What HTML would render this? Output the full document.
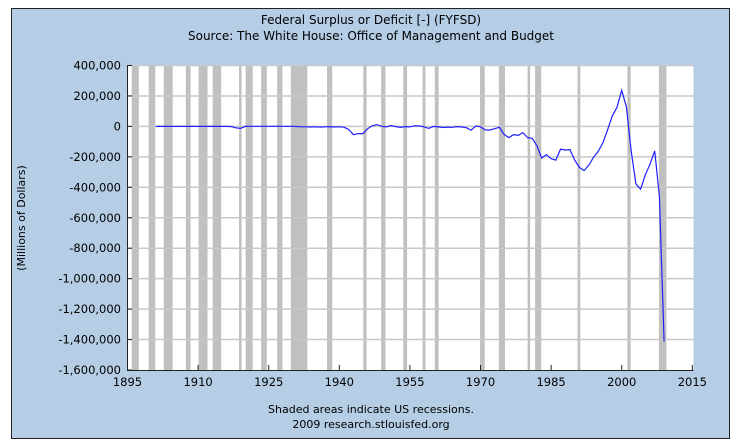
<!DOCTYPE html>
<html><head><meta charset="utf-8"><style>
body{margin:0;background:#fff;}
svg{display:block;font-family:"DejaVu Sans","Liberation Sans",sans-serif;}
</style></head><body>
<svg id="chart" width="732" height="441">
<rect x="11.5" y="8.5" width="718" height="430" fill="#b5cee6" stroke="#222"/>
<text x="371" y="24" font-size="12" text-anchor="middle">Federal Surplus or Deficit [-] (FYFSD)</text>
<text x="371" y="40" font-size="12" text-anchor="middle">Source: The White House: Office of Management and Budget</text>
<rect x="127.5" y="65" width="566" height="305" fill="#fff"/>
<g id="rec"></g><g id="grid"></g><g id="axes"></g>
<path id="line" fill="none" stroke="#1f1fff" stroke-width="1.2"/>
<text x="25" y="218" font-size="11" text-anchor="middle" transform="rotate(-90 25 218)">(Millions of Dollars)</text>
<text x="371" y="413" font-size="11" text-anchor="middle">Shaded areas indicate US recessions.</text>
<text x="371" y="428" font-size="11" text-anchor="middle">2009 research.stlouisfed.org</text>
</svg>
<script>
const years=[1901,1902,1903,1904,1905,1906,1907,1908,1909,1910,1911,1912,1913,1914,1915,1916,1917,1918,1919,1920,1921,1922,1923,1924,1925,1926,1927,1928,1929,1930,1931,1932,1933,1934,1935,1936,1937,1938,1939,1940,1941,1942,1943,1944,1945,1946,1947,1948,1949,1950,1951,1952,1953,1954,1955,1956,1957,1958,1959,1960,1961,1962,1963,1964,1965,1966,1967,1968,1969,1970,1971,1972,1973,1974,1975,1976,1977,1978,1979,1980,1981,1982,1983,1984,1985,1986,1987,1988,1989,1990,1991,1992,1993,1994,1995,1996,1997,1998,1999,2000,2001,2002,2003,2004,2005,2006,2007,2008,2009];
const values=[63,77,45,-43,-23,25,87,-57,-89,-18,11,3,0,-1,-63,48,-853,-9032,-13363,291,509,736,713,963,717,865,1155,939,734,738,-462,-2735,-2602,-3630,-2791,-4425,-2777,-1177,-3862,-2920,-4941,-20503,-54554,-47557,-47553,-15936,4018,11796,580,-3119,6102,-1519,-6493,-1154,-2993,3947,3412,-2769,-12849,301,-3335,-7146,-4756,-5915,-1411,-3698,-8643,-25161,3242,-2842,-23033,-23373,-14908,-6135,-53242,-73732,-53659,-59185,-40726,-73830,-78968,-127977,-207802,-185367,-212308,-221227,-149730,-155178,-152639,-221036,-269238,-290321,-255051,-203186,-163952,-107431,-21884,69270,125610,236241,128236,-157758,-377585,-412727,-318346,-248181,-160701,-458553,-1412686];
const recStart=[1895.9,1899.5,1902.7,1907.4,1910.1,1913.1,1918.7,1920.1,1923.4,1926.8,1929.7,1937.4,1945.1,1948.9,1953.6,1957.7,1960.3,1969.9,1973.9,1980.0,1981.6,1990.6,2001.2,2007.9];
const recEnd=[1897.4,1900.9,1904.6,1908.4,1912.0,1914.9,1919.2,1921.6,1924.6,1927.9,1933.2,1938.5,1945.8,1949.8,1954.4,1958.3,1961.1,1970.9,1975.2,1980.5,1982.9,1991.2,2001.9,2009.5];
const yTicks=[400000,200000,0,-200000,-400000,-600000,-800000,-1000000,-1200000,-1400000,-1600000];
const xTicks=[1895,1910,1925,1940,1955,1970,1985,2000,2015];
const NS='http://www.w3.org/2000/svg';
const X=v=>127.5+(v-1895)*4.707;
const Y=v=>370-(v+1600000)/2000000*304.5;
function mk(tag,parent,attrs){const e=document.createElementNS(NS,tag);for(const k in attrs)e.setAttribute(k,attrs[k]);document.getElementById(parent).appendChild(e);return e;}
recStart.forEach((s,i)=>{const e=mk('rect','rec',{x:X(s),y:65,width:Math.max(X(recEnd[i])-X(s),2.5),height:305,fill:'#c0c0c0'});

});
yTicks.forEach(t=>{const y=Y(t);
if(t>-1600000){const g=mk('line','grid',{x1:127.5,x2:693.5,y1:y,y2:y,stroke:'#c8c8c8','stroke-width':1.5});

}
const tk=mk('line','axes',{x1:127.5,x2:132,y1:y,y2:y,stroke:'#222'});


const l=mk('text','axes',{x:121,y:y+4,'font-size':11.5,'text-anchor':'end'});l.textContent=t.toLocaleString('en-US');

});
xTicks.forEach(t=>{const x=X(t);
const tk=mk('line','axes',{x1:x,x2:x,y1:370,y2:365,stroke:'#222'});


const l=mk('text','axes',{x:x,y:386,'font-size':11.5,'text-anchor':'middle'});l.textContent=t;

});
const ax=mk('path','axes',{d:'M127.5,65V370.5H693.5',fill:'none',stroke:'#222'});


document.getElementById('line').setAttribute('d',years.map((yr,i)=>(i?'L':'M')+X(yr).toFixed(1)+','+Y(values[i]).toFixed(1)).join(''));
</script>
</body></html>
